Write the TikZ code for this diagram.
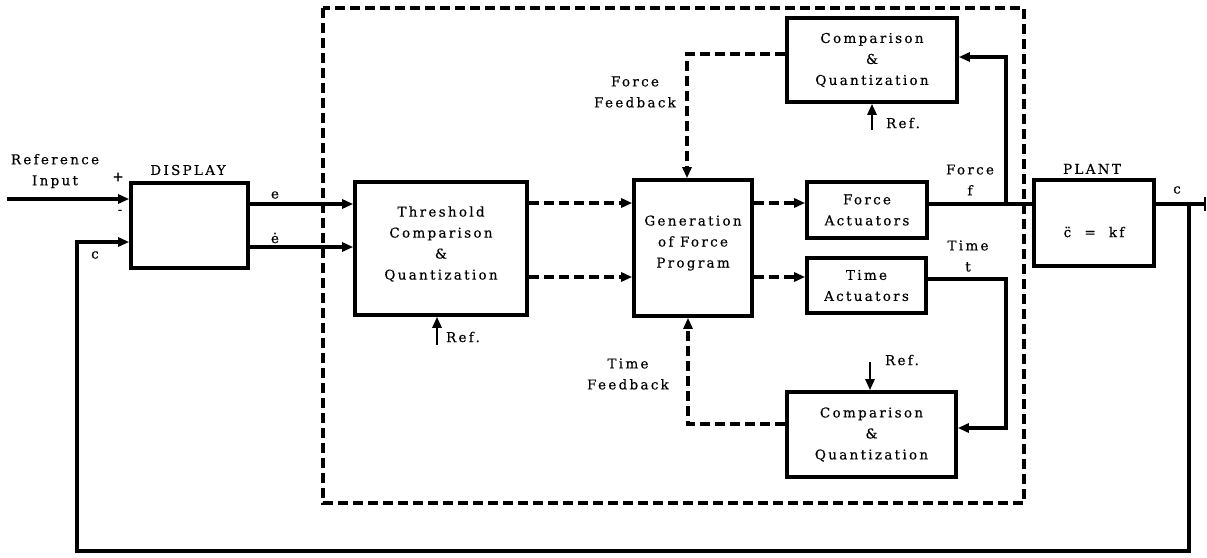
\documentclass[tikz,border=0pt]{standalone}
\usepackage{fontspec}
\setmainfont{DejaVu Serif}[LetterSpace=17,FakeBold=0.4]
\usetikzlibrary{arrows.meta}
\begin{document}
\begin{tikzpicture}[x=1pt,y=-1pt,
  every node/.style={font=\fontsize{13.5}{21}\selectfont, inner sep=0pt},
  blk/.style={draw, line width=3.6pt, minimum width=#1},
  sline/.style={line width=3.4pt},
  dline/.style={line width=3.2pt, dash pattern=on 10pt off 5pt},
  tip/.style={-{Triangle[length=11pt,width=9pt]}},
  lbl/.style={align=center}]
\useasboundingbox (0,0) rectangle (1207,557);
% blocks
\node[blk=117, minimum height=85] (disp) at (189.5,225.5) {};
\node[blk=172, minimum height=133] (thr) at (441,248.5) {};
\node[lbl] (thrt) at (441,244) {Threshold\\Comparison\\\&\\Quantization};
\node[blk=118, minimum height=136] (gen) at (693,248) {};
\node[lbl] (gent) at (693,243) {Generation\\of Force\\Program};
\node[blk=120, minimum height=56, align=center] (fact) at (867,210) {Force\\Actuators};
\node[blk=119, minimum height=55, align=center] (tact) at (866.5,285.5) {Time\\Actuators};
\node[blk=170, minimum height=84, align=center] (cq1) at (872,60) {Comparison\\\&\\Quantization};
\node[blk=169, minimum height=85, align=center] (cq2) at (871.5,434.5) {Comparison\\\&\\Quantization};
\node[blk=120, minimum height=86] (plant) at (1094,223) {};
\node (plantt) at (1094,232) {c̈ \ = \ kf};
% dashed boundary
\draw[dline] (323,8) rectangle (1024,503);
% coordinates
\coordinate (refin) at (7,199);
\coordinate (outend) at (1205,204);
\coordinate (fb1) at (1189,204);
\coordinate (fb2) at (1189,551);
\coordinate (fb3) at (77,551);
\coordinate (fb4) at (77,242);
\coordinate (fbr) at (1006,204);
\coordinate (fbr2) at (1006,57);
\coordinate (tbr1) at (1006,279);
\coordinate (tbr2) at (1006,428);
\coordinate (ff1) at (687,54);
\coordinate (tf1) at (688,424);
\coordinate (r1) at (872,130);
\coordinate (r2) at (870,362);
\coordinate (r3) at (437,345);
% solid connectors
\draw[sline,tip] (refin) -- (refin -| disp.west);
\draw[sline] (plant.east |- outend) -- (outend);
\draw[line width=2.8pt] (1205,197) -- (1205,211);
\draw[sline,tip] (fb1) -- (fb2) -- (fb3) -- (fb4) -- (fb4 -| disp.west);
\draw[sline,tip] (disp.east |- 0,204) -- (thr.west |- 0,204);
\draw[sline,tip] (disp.east |- 0,247) -- (thr.west |- 0,247);
\draw[sline] (fact.east |- fbr) -- (plant.west |- fbr);
\draw[sline,tip] (fbr) -- (fbr2) -- (fbr2 -| cq1.east);
\draw[sline,tip] (tact.east |- tbr1) -- (tbr1) -- (tbr2) -- (tbr2 -| cq2.east);
\draw[line width=2.6pt,tip] (r1) -- (r1 |- cq1.south);
\draw[line width=2.6pt,tip] (r2) -- (r2 |- cq2.north);
\draw[line width=2.6pt,tip] (r3) -- (r3 |- thr.south);
% dashed connectors
\draw[dline,tip] (thr.east |- 0,203) -- (gen.west |- 0,203);
\draw[dline,tip] (thr.east |- 0,277) -- (gen.west |- 0,277);
\draw[dline,tip] (gen.east |- 0,203) -- (fact.west |- 0,203);
\draw[dline,tip] (gen.east |- 0,277) -- (tact.west |- 0,277);
\draw[dline,tip] (cq1.west |- ff1) -- (ff1) -- (ff1 |- gen.north);
\draw[dline,tip] (cq2.west |- tf1) -- (tf1) -- (tf1 |- gen.south);
% labels
\node[lbl] (lref) at (55,171) {Reference\\Input};
\node (lplus) at (118,177) {+};
\node (lminus) at (120,212) {-};
\node (ldisp) at (188,170) {DISPLAY};
\node (lc1) at (95,255) {c};
\node (le) at (275,195) {e};
\node (led) at (275,238) {ė};
\node (lref1) at (463,337) {Ref.};
\node (lref2) at (903,123) {Ref.};
\node (lref3) at (902,360) {Ref.};
\node[lbl] (lff) at (635,92) {Force\\Feedback};
\node[lbl] (ltf) at (628,374) {Time\\Feedback};
\node[lbl] (lf) at (970,180) {Force\\f};
\node[lbl] (lt) at (968,256) {Time\\t};
\node (lplant) at (1092,169) {PLANT};
\node (lc2) at (1177,190) {c};
\end{tikzpicture}
\end{document}
